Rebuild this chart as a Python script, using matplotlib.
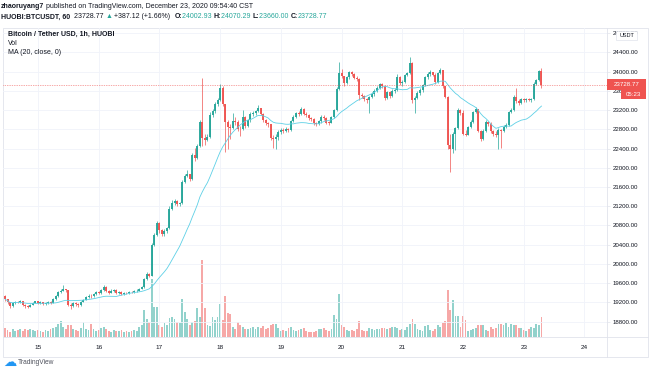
import numpy as np
import pandas as pd
import matplotlib
matplotlib.use("Agg")
import matplotlib.pyplot as plt
from matplotlib.patches import Rectangle
from matplotlib.lines import Line2D

plt.rcParams['font.family'] = ['Liberation Sans', 'DejaVu Sans']

# hourly candles, HUOBI BTC/USDT, Dec 14 11:00 -> Dec 23 08:00
open0 = 19330.0
closes = [
    19270, 19200, 19130, 19180, 19210, 19200, 19220, 19150, 19120, 19110,
    19150, 19190, 19220, 19190, 19200, 19170, 19180, 19200, 19190, 19280,
    19340, 19420, 19440, 19470, 19450, 19150, 19120, 19180, 19160, 19140,
    19210, 19260, 19320, 19340, 19330, 19380, 19410, 19390, 19450, 19530,
    19440, 19400, 19440, 19460, 19400, 19420, 19380, 19400, 19390, 19420,
    19410, 19430, 19440, 19490, 19520, 19680, 19800, 19750, 20400, 20600,
    20850, 20700, 20620, 20680, 20740, 21150, 21270, 21300, 21240, 21260,
    21700, 21830, 21870, 21760, 22260, 22200, 22450, 22950, 22620, 22580,
    22640, 23100, 23170, 23330, 23400, 23650, 23320, 22950, 22850, 22830,
    22980, 22960, 22810, 22800, 23050, 22870, 22990, 23120, 23140, 23180,
    23240, 23120, 23000, 22920, 22900, 22620, 22600, 22640, 22750, 22780,
    22760, 22800, 22790, 22980, 23060, 23130, 23120, 23230, 23120, 23100,
    23030, 23020, 22920, 22900, 22970, 23060, 23040, 22940, 22930, 23050,
    23200, 23640, 23960, 23900, 23760, 23880, 23990, 23940, 23870, 23850,
    23520, 23500, 23420, 23400, 23480, 23540, 23600, 23660, 23740, 23700,
    23440, 23570, 23500, 23600, 23620, 23880, 23760, 23790, 23920, 23960,
    24180, 23400, 23450, 23560, 23620, 23720, 23880, 23940, 23990, 23930,
    23780, 23960, 24030, 23690, 23480, 22470, 22380, 22700, 22820, 23200,
    23140, 22710, 22690, 22840, 22960, 23160, 23220, 22760, 22590, 22760,
    22950, 22900, 22760, 22700, 22690, 22790, 22770, 22850, 22890, 23160,
    23200, 23480, 23380, 23350, 23420, 23400, 23430, 23410, 23420, 23750,
    23820, 24002.93, 23728.77,
]
highs = [
    19350, 19280, 19210, 19200, 19240, 19230, 19250, 19230, 19160, 19140,
    19170, 19210, 19240, 19230, 19220, 19210, 19200, 19220, 19220, 19300,
    19360, 19440, 19490, 19560, 19490, 19460, 19180, 19200, 19210, 19180,
    19230, 19280, 19340, 19370, 19370, 19400, 19430, 19430, 19470, 19560,
    19540, 19460, 19470, 19490, 19470, 19440, 19430, 19420, 19420, 19440,
    19440, 19460, 19470, 19510, 19550, 19700, 19830, 19820, 20430, 20640,
    20900, 20880, 20720, 20720, 20770, 21200, 21340, 21360, 21320, 21290,
    21740, 21880, 21950, 21880, 22300, 22420, 22500, 23000, 23860, 22700,
    22700, 23150, 23220, 23360, 23450, 23740, 23690, 23330, 23000, 22900,
    23140, 23050, 22990, 22860, 23200, 23080, 23020, 23150, 23180, 23210,
    23300, 23250, 23130, 23010, 22950, 22910, 22680, 22700, 22780, 22830,
    22820, 22840, 22830, 23000, 23100, 23160, 23180, 23260, 23250, 23150,
    23110, 23060, 23030, 22950, 23000, 23090, 23090, 23050, 22980, 23080,
    23230, 23680, 24200, 24050, 23910, 23910, 24020, 24020, 23960, 23900,
    23870, 23560, 23520, 23460, 23500, 23570, 23630, 23700, 23770, 23760,
    23720, 23600, 23590, 23630, 23650, 23950, 23900, 23820, 23950, 24000,
    24310, 24200, 23500, 23600, 23650, 23750, 23910, 23990, 24040, 24000,
    23960, 24000, 24080, 24040, 23700, 23500, 22700, 22750, 22850, 23250,
    23230, 23200, 22780, 22870, 22990, 23190, 23260, 23230, 22780, 22800,
    22990, 22970, 22950, 22780, 22760, 22820, 22810, 22880, 22920, 23190,
    23240, 23520, 23650, 23420, 23450, 23450, 23460, 23460, 23450, 23780,
    23850, 24040, 24070.29,
]
lows = [
    19240, 19170, 19085, 19110, 19160, 19180, 19190, 19130, 19090, 19080,
    19100, 19140, 19180, 19170, 19170, 19150, 19150, 19170, 19170, 19180,
    19260, 19320, 19400, 19430, 19420, 19120, 19070, 19100, 19130, 19110,
    19130, 19200, 19250, 19300, 19300, 19320, 19360, 19370, 19380, 19440,
    19420, 19380, 19390, 19420, 19380, 19380, 19360, 19360, 19370, 19380,
    19390, 19400, 19410, 19430, 19480, 19510, 19660, 19720, 19740, 20380,
    20580, 20650, 20580, 20590, 20650, 20720, 21130, 21220, 21200, 21200,
    21250, 21680, 21800, 21730, 21750, 22150, 22180, 22430, 22450, 22480,
    22550, 22620, 23050, 23130, 23280, 23380, 23280, 22330, 22400, 22600,
    22800, 22880, 22760, 22650, 22780, 22830, 22850, 22960, 23080, 23100,
    23150, 23090, 22960, 22880, 22850, 22580, 22420, 22400, 22580, 22700,
    22720, 22740, 22750, 22770, 22950, 23040, 23080, 23100, 23090, 23060,
    23000, 22980, 22880, 22860, 22880, 22940, 23000, 22900, 22890, 22920,
    23030, 23180, 23620, 23860, 23700, 23740, 23850, 23900, 23840, 23800,
    23400, 23450, 23380, 23350, 23130, 23440, 23500, 23580, 23640, 23660,
    23410, 23420, 23460, 23480, 23560, 23600, 23720, 23700, 23760, 23900,
    23940, 23350, 23130, 23420, 23520, 23580, 23700, 23850, 23900, 23900,
    23740, 23760, 23940, 23660, 23440, 22400, 21920, 22300, 22360, 22800,
    23100, 22680, 22650, 22680, 22820, 22940, 23130, 22740, 22560, 22570,
    22740, 22860, 22720, 22650, 22640, 22400, 22420, 22740, 22820, 22870,
    23130, 23180, 23340, 23300, 23330, 23360, 23370, 23380, 23370, 23400,
    23720, 23800, 23660,
]
volumes = [
    9, 7, 5, 8, 6, 7, 8, 6, 8, 7,
    8, 7, 6, 7, 6, 5, 7, 6, 8, 9,
    10, 13, 16, 10, 8, 12, 12, 8, 7, 6,
    9, 15, 8, 7, 13, 8, 6, 7, 9, 10,
    8, 6, 5, 7, 6, 6, 7, 5, 6, 5,
    6, 7, 6, 10, 12, 27, 18, 15, 58, 30,
    30, 12, 10, 14, 12, 19, 20, 18, 15, 14,
    38, 25, 18, 12, 15, 16, 29, 20, 77, 29,
    12, 11, 20, 17, 20, 33, 17, 41, 24, 23,
    10, 8, 15, 12, 10, 8, 8, 9, 10, 8,
    10, 9, 11, 8, 9, 12, 13, 13, 9, 6,
    7, 6, 9, 10, 7, 6, 7, 8, 9, 6,
    5, 5, 5, 6, 8, 8, 9, 7, 6, 8,
    22, 18, 43, 12, 10, 7, 6, 7, 6, 8,
    16, 7, 6, 6, 9, 8, 7, 8, 8, 9,
    9, 8, 9, 10, 10, 9, 7, 8, 7, 10,
    13, 18, 13, 8, 7, 6, 11, 12, 7, 6,
    8, 12, 10, 14, 16, 47, 27, 37, 21, 21,
    10, 21, 17, 6, 7, 8, 9, 12, 12, 12,
    7, 6, 10, 8, 9, 13, 13, 12, 14, 10,
    13, 12, 12, 9, 9, 7, 6, 8, 10, 9,
    13, 12, 20,
]
day_labels = ['15', '16', '17', '18', '19', '20', '21', '22', '23', '24']
first_day_bar = 13          # Dec 15 00:00 is the 14th candle
price_ticks = list(range(18800, 24801, 400))
last_price = closes[-1]

GREEN = '#26a69a'
RED = '#ef5350'
TXT = '#131722'
LINE = '#e0e3eb'
GRID = '#f0f3fa'

W, H = 650, 374


def px_rect(x0, y0, x1, y1):
    return [x0 / W, 1 - y1 / H, (x1 - x0) / W, (y1 - y0) / H]


fig = plt.figure(figsize=(W / 100, H / 100), dpi=100)
fig.patch.set_facecolor('white')

pane = px_rect(3, 28, 607, 337)
axv = fig.add_axes(pane)
ax = fig.add_axes(pane, sharex=axv)
axv.set_zorder(1)
ax.set_zorder(2)
ax.patch.set_visible(False)

n = len(closes)
idx = np.arange(n)
c = np.array(closes, float)
o = np.concatenate([[open0], c[:-1]])
h = np.maximum(np.array(highs, float), np.maximum(o, c))
l = np.minimum(np.array(lows, float), np.minimum(o, c))
up = c >= o
col = np.where(up, GREEN, RED)

# volume pane (1 unit = 1 px of height)
vcol = np.where(up, '#26a69a80', '#ef535080')
axv.bar(idx, volumes, width=0.72, color=vcol, linewidth=0)
axv.set_ylim(0, 309)
axv.axis('off')

# candles
ax.vlines(idx, l, h, colors=col, linewidth=0.5)
body_lo = np.minimum(o, c)
body_hi = np.maximum(np.maximum(o, c), body_lo + 12)
ax.vlines(idx, body_lo, body_hi, colors=col, linewidth=1.35)

ma = pd.Series(c).rolling(20, min_periods=1).mean()
ax.plot(idx, ma, color='#5ed0e6', linewidth=0.6)

ax.axhline(last_price, color=RED, linewidth=0.5, linestyle=(0, (1, 1.5)))

day_pos = [first_day_bar + 24 * k for k in range(len(day_labels))]
ax.set_xticks(day_pos)
ax.set_xticklabels(day_labels)
ax.set_yticks(price_ticks)
ax.set_yticklabels(['%.2f' % p for p in price_ticks])
ax.set_xlim(-0.8, 237.9)
ax.set_ylim(18482, 24905)
ax.yaxis.tick_right()
ax.grid(True, color=GRID, linewidth=0.6)
ax.set_axisbelow(True)
ax.tick_params(axis='x', length=0, pad=6, labelsize=4.6, labelcolor=TXT)
ax.tick_params(axis='y', length=2.2, width=0.5, color=LINE, pad=2,
               labelsize=4.4, labelcolor=TXT)
for s in ax.spines.values():
    s.set_visible(False)

# frame lines
fig.add_artist(Rectangle((3 / W, 1 - 357 / H), 645 / W, 329 / H, transform=fig.transFigure,
                         fill=False, edgecolor=LINE, linewidth=0.6))
fig.add_artist(Line2D([607 / W, 607 / W], [1 - 28 / H, 1 - 357 / H], color=LINE, linewidth=0.6))
fig.add_artist(Line2D([3 / W, 648 / W], [1 - 337 / H, 1 - 337 / H], color=LINE, linewidth=0.6))

# price labels on the axis
fig.add_artist(Rectangle((607 / W, 1 - 89.5 / H), 39 / W, 10.5 / H, transform=fig.transFigure,
                         facecolor=RED, edgecolor='none', zorder=5))
fig.text(626.5 / W, 1 - 84.3 / H, '%.2f' % last_price, color='white', fontsize=4.4,
         ha='center', va='center', zorder=6)
fig.add_artist(Rectangle((621 / W, 1 - 99 / H), 25 / W, 9.5 / H, transform=fig.transFigure,
                         facecolor=RED, edgecolor='none', zorder=5))
fig.text(633.5 / W, 1 - 94.2 / H, '05:23', color='white', fontsize=4.4,
         ha='center', va='center', zorder=6)
fig.add_artist(Rectangle((616 / W, 1 - 39.5 / H), 21 / W, 8.5 / H, transform=fig.transFigure,
                         facecolor='white', edgecolor=LINE, linewidth=0.5, zorder=5))
fig.text(626.5 / W, 1 - 35.3 / H, 'USDT', color=TXT, fontsize=4.0,
         ha='center', va='center', zorder=6)


def write_row(pieces, x, y, size):
    r = fig.canvas.get_renderer()
    for s, color, weight in pieces:
        t = fig.text(x / W, 1 - y / H, s, color=color, fontweight=weight,
                     fontsize=size, ha='left', va='center')
        x = t.get_window_extent(r).x1


write_row([('zhaoruyang7', TXT, 'bold'),
           (' published on TradingView.com, December 23, 2020 09:54:40 CST', TXT, 'normal')],
          1, 6, 5.0)
write_row([('HUOBI:BTCUSDT, 60', TXT, 'bold'),
           ('  23728.77 ', TXT, 'normal'),
           ('▲', GREEN, 'normal'),
           (' +387.12 (+1.66%)  ', TXT, 'normal'),
           ('O:', TXT, 'bold'), ('24002.93 ', GREEN, 'normal'),
           ('H:', TXT, 'bold'), ('24070.29 ', GREEN, 'normal'),
           ('L:', TXT, 'bold'), ('23660.00 ', GREEN, 'normal'),
           ('C:', TXT, 'bold'), ('23728.77', GREEN, 'normal')],
          1, 17, 5.0)

fig.text(8 / W, 1 - 34.5 / H, 'Bitcoin / Tether USD, 1h, HUOBI', color=TXT,
         fontweight='bold', fontsize=5.0, va='center')
fig.text(8 / W, 1 - 43.7 / H, 'Vol', color=TXT, fontsize=5.0, va='center')
fig.text(8 / W, 1 - 52.8 / H, 'MA (20, close, 0)', color=TXT, fontsize=5.0, va='center')

# watermark
fig.text(3 / W, 1 - 362 / H, '☁', color='#2196f3', fontsize=9.5, va='center',
         family='DejaVu Sans')
fig.text(18 / W, 1 - 362 / H, 'TradingView', color='#50535e', fontsize=4.8, va='center')

fig.savefig('out.png', dpi=100, facecolor='white')
